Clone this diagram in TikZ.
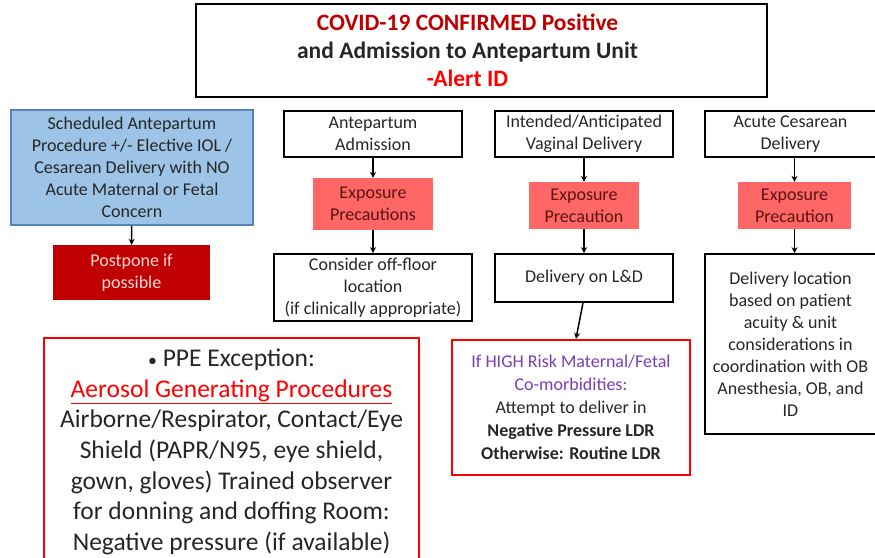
\documentclass[tikz,border=0pt]{standalone}
\usepackage{fontspec}
\setmainfont{Carlito}
\usepackage{xcolor}
\usetikzlibrary{arrows.meta}
\definecolor{darkred}{HTML}{C00000}
\definecolor{alertred}{HTML}{FF0000}
\definecolor{skyfill}{HTML}{9DC3E6}
\definecolor{skyline}{HTML}{5683BA}
\definecolor{expfill}{HTML}{FF6666}
\definecolor{exptext}{HTML}{5A1414}
\definecolor{riskpurple}{HTML}{7A3EB4}
\definecolor{softpink}{HTML}{FFD6D6}

\begin{document}
\begin{tikzpicture}[x=1pt,y=-1pt,
		box/.style={draw=black,line width=1.6pt,align=center,inner sep=2pt,text=black!85,
			font=\fontsize{18}{22}\selectfont},
		expbox/.style={fill=expfill,align=center,inner sep=2pt,text=exptext,
			font=\fontsize{18}{22}\selectfont},
		arr/.style={-{Stealth[length=6pt,width=6pt]},line width=1.5pt}]
				\useasboundingbox (0,0) rectangle (875,557);
				\node [box,line width=2pt,minimum width=571,minimum height=93,
					font=\bfseries\fontsize{23.5}{28}\selectfont] (title) at (481.5,50.5)
					{\textcolor{darkred}{COVID-19 CONFIRMED Positive}\rule{28pt}{0pt}\\and Admission to Antepartum Unit\rule{28pt}{0pt}\\\textcolor{alertred}{-Alert ID}\rule{28pt}{0pt}};
				\node [box,fill=skyfill,draw=skyline,minimum width=242,minimum height=115] (sched) at (132,167.5)
					{Scheduled Antepartum\\Procedure +/- Elective IOL /\\Cesarean Delivery with NO\\Acute Maternal or Fetal\\Concern};
				\node [expbox,fill=darkred,text=softpink,minimum width=157,minimum height=55] (postpone) at (131.5,272.5)
					{Postpone if\\possible};
				\node [box,minimum width=178,minimum height=46] (admit) at (373,134)
					{Antepartum\\Admission};
				\node [expbox,minimum width=120,minimum height=52] (expadmit) at (373,204)
					{Exposure\\Precautions};
				\node [box,minimum width=198,minimum height=67] (offfloor) at (373,287.5)
					{Consider off-floor\\location\\(if clinically appropriate)};
				\node [box,minimum width=178,minimum height=46] (vaginal) at (584,134)
					{Intended/Anticipated\\Vaginal Delivery};
				\node [expbox,minimum width=110,minimum height=47] (expvag) at (584,205.5)
					{Exposure\\Precaution};
				\node [box,minimum width=178,minimum height=48] (ldroom) at (584,278)
					{Delivery on L\&D};
				\node [box,draw=alertred,line width=2.4pt,minimum width=238,minimum height=135,
					font=\fontsize{18}{23}\selectfont] (highrisk) at (571,407.5)
					{\textcolor{riskpurple}{If HIGH Risk Maternal/Fetal}\\\textcolor{riskpurple}{Co-morbidities:}\\Attempt to deliver in\\\textbf{Negative Pressure LDR}\\\textbf{Otherwise: Routine LDR}};
				\node [box,minimum width=171,minimum height=46] (acute) at (790.5,134)
					{Acute Cesarean\\Delivery};
				\node [expbox,minimum width=113,minimum height=47] (expacute) at (794.5,205.5)
					{Exposure\\Precaution};
				\node [box,minimum width=171,minimum height=180] (dlocation) at (790.5,344)
					{Delivery location\\based on patient\\acuity \& unit\\considerations in\\coordination with OB\\Anesthesia, OB, and\\ID};
				\node [box,draw=alertred,line width=1.8pt,minimum width=375,minimum height=228,anchor=north,
					font=\fontsize{25.5}{30.6}\selectfont] (ppe) at (231.5,337)
					{{\fontsize{18}{20}\selectfont•} PPE Exception:\\\textcolor{alertred}{\underline{Aerosol Generating Procedures}}\\Airborne/Respirator, Contact/Eye\\Shield (PAPR/N95, eye shield,\\gown, gloves) Trained observer\\for donning and doffing Room:\\Negative pressure (if available)};
				\draw [arr](sched)--(postpone);
				\draw [arr](admit)--(expadmit);
				\draw [arr](expadmit)--(offfloor);
				\draw [arr](vaginal)--(expvag);
				\draw [arr](expvag)--(ldroom);
				\draw [arr]([xshift=-1pt]ldroom.south)--([xshift=5pt]highrisk.north);
				\draw [arr](expacute.north |- acute.south)--(expacute.north);
				\draw [arr](expacute.south)--(expacute.south |- dlocation.north);
			\end{tikzpicture}
\end{document}
